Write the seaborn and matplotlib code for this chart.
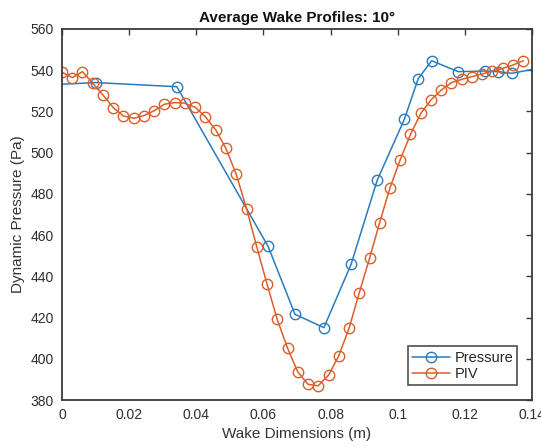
import numpy as np
import pandas as pd
import matplotlib
matplotlib.use("Agg")
import matplotlib.pyplot as plt
import seaborn as sns

# Pressure-tap readings (blue)
pressure_x = [-0.004, 0.0101, 0.0342, 0.0614, 0.0694, 0.0780, 0.0861, 0.0939,
              0.1020, 0.1061, 0.1101, 0.1180, 0.1260, 0.1300, 0.1340, 0.1420]
pressure_y = [532.9, 534.0, 532.0, 454.5, 421.6, 415.1, 445.8, 486.7,
              516.3, 535.9, 544.6, 539.3, 539.6, 539.3, 538.5, 541.0]

# PIV readings (orange)
piv_x = [0.0, 0.0031, 0.0061, 0.0092, 0.0122, 0.0153, 0.0183, 0.0214, 0.0244, 0.0275,
         0.0305, 0.0336, 0.0366, 0.0397, 0.0427, 0.0458, 0.0488, 0.0519, 0.0550, 0.0580,
         0.0611, 0.0641, 0.0672, 0.0702, 0.0733, 0.0763, 0.0794, 0.0824, 0.0855, 0.0885,
         0.0916, 0.0946, 0.0977, 0.1007, 0.1038, 0.1069, 0.1099, 0.1130, 0.1160, 0.1191,
         0.1221, 0.1252, 0.1282, 0.1313, 0.1343, 0.1374]
piv_y = [539.0, 536.4, 539.3, 533.6, 528.0, 521.8, 517.8, 516.7, 518.0, 520.4,
         523.5, 524.3, 524.0, 522.0, 517.4, 511.0, 502.1, 489.5, 472.7, 454.4,
         436.1, 419.1, 405.1, 393.7, 387.6, 386.9, 392.1, 401.3, 414.8, 431.8,
         448.7, 466.0, 483.0, 496.4, 508.9, 519.1, 525.6, 530.4, 534.0, 535.6,
         536.9, 538.2, 539.6, 540.9, 542.5, 544.6]

x_ticks = [0, 0.02, 0.04, 0.06, 0.08, 0.1, 0.12, 0.14]
x_tick_labels = ["0", "0.02", "0.04", "0.06", "0.08", "0.1", "0.12", "0.14"]
y_ticks = [380, 400, 420, 440, 460, 480, 500, 520, 540, 560]

sns.set_style("white")
plt.rcParams['font.family'] = ['Liberation Sans', 'DejaVu Sans']

axis_gray = "#3a3a3a"
blue = "#2a7bbd"
orange = "#dc5e2a"

fig = plt.figure(figsize=(5.41, 4.46), dpi=100)
ax = fig.add_axes([0.1146, 0.1031, 0.8688, 0.8319])

sns.lineplot(x=pressure_x, y=pressure_y, ax=ax, sort=False, color=blue,
             marker='o', markersize=7.5, markerfacecolor='none',
             markeredgecolor=blue, markeredgewidth=1, linewidth=1.1,
             label="Pressure")
sns.lineplot(x=piv_x, y=piv_y, ax=ax, sort=False, color=orange,
             marker='o', markersize=7.5, markerfacecolor='none',
             markeredgecolor=orange, markeredgewidth=1, linewidth=1.1,
             label="PIV")

ax.set_xlim(0, 0.14)
ax.set_ylim(380, 560)
ax.set_xticks(x_ticks)
ax.set_xticklabels(x_tick_labels)
ax.set_yticks(y_ticks)

for sp in ax.spines.values():
    sp.set_color(axis_gray)
    sp.set_linewidth(1.3)
ax.tick_params(direction='in', length=4, width=1, colors=axis_gray,
               labelsize=10, top=True, right=True, pad=6)
for lbl in ax.get_xticklabels() + ax.get_yticklabels():
    lbl.set_color("#2e2e2e")

ax.set_xlabel("Wake Dimensions (m)", fontsize=11, color="#333333", labelpad=3)
ax.set_ylabel("Dynamic Pressure (Pa)", fontsize=11, color="#333333", labelpad=4)
ax.set_title("Average Wake Profiles: 10°", fontsize=11, fontweight='bold',
             color="#111111", pad=5)

leg = ax.legend(loc='lower right', fontsize=10.5, frameon=True, fancybox=False,
                borderpad=0.3, handlelength=2.6, handletextpad=0.3,
                labelspacing=0.15, borderaxespad=1.0)
leg.get_frame().set_edgecolor("#222222")
leg.get_frame().set_linewidth(1.2)

fig.savefig("out.png", dpi=100)
